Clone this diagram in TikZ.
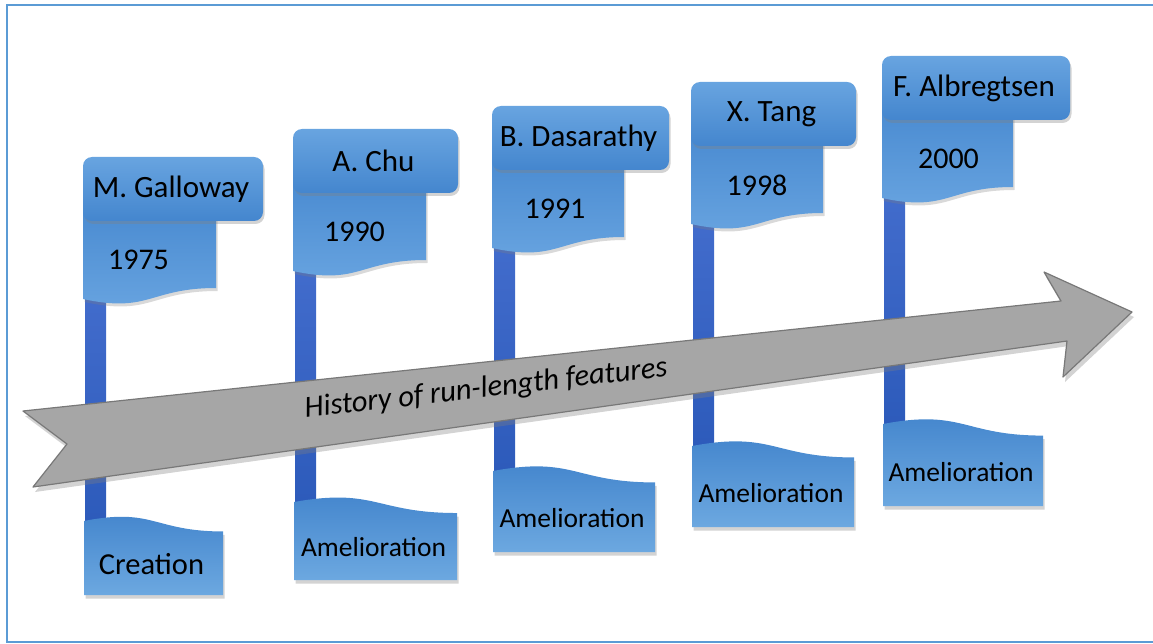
\documentclass[tikz,border=0pt]{standalone}
\usepackage{fontspec}
\setmainfont{Carlito}
\usetikzlibrary{shadows}
\definecolor{frameblue}{RGB}{91,155,213}
\definecolor{boxtop}{RGB}{104,164,224}
\definecolor{boxbot}{RGB}{68,134,206}
\definecolor{lowtop}{RGB}{66,132,204}
\definecolor{lowbot}{RGB}{108,168,224}
\definecolor{poletop}{RGB}{66,108,204}
\definecolor{polebot}{RGB}{44,90,186}
\definecolor{arrowfill}{RGB}{166,166,166}
\definecolor{arrowline}{RGB}{120,120,120}
\tikzset{
  labeltext/.style={font=\fontsize{30}{34}\selectfont, text=black, inner sep=0pt},
  namebox/.style={top color=boxtop, bottom color=boxbot, rounded corners=9pt,
    drop shadow={shadow xshift=1.5pt, shadow yshift=-3pt, opacity=0.35}},
  flagbox/.style={top color=boxbot, bottom color=boxtop,
    drop shadow={shadow xshift=1.5pt, shadow yshift=-3pt, opacity=0.3}},
  lowbox/.style={top color=lowtop, bottom color=lowbot,
    drop shadow={shadow xshift=1.5pt, shadow yshift=-3.5pt, opacity=0.35}},
  polebar/.style={top color=poletop, bottom color=polebot},
  bigarrow/.style={fill=arrowfill, draw=arrowline, line width=1.2pt, line join=round,
    drop shadow={shadow xshift=2pt, shadow yshift=-5pt, opacity=0.35}},
}
\begin{document}
\begin{tikzpicture}[x=1pt,y=-1pt]
\useasboundingbox (0,0) rectangle (1153,644);
% frame
\draw[frameblue, line width=2.6pt] (1160,5) -- (7,5) -- (7,642) -- (1160,642);

% poles (behind everything else)
\foreach \id/\x/\bt/\lt in {1/83/157/521, 2/293/129/502, 3/492/106/471, 4/691/82/446, 5/882/56/424}{
  \pgfmathsetmacro{\pa}{\bt+135}
  \pgfmathsetmacro{\pb}{\lt+12}
  \path[polebar] (\x+2,\pa) rectangle (\x+23,\pb);
}

% timeline arrow
\path[bigarrow] (23,411) -- (67,444) -- (33,487) -- (1067,341) -- (1063,377)
  -- (1132,312) -- (1044,272) -- (1061,301) -- cycle;
\node[labeltext, font=\fontsize{30.5}{34}\selectfont\itshape, rotate=6.6] (title)
  at (486,389) {History of run-length features};

% milestones: flag with name and year, lower card with the event
\foreach \id/\x/\bt/\bw/\fw/\lw/\lt/\lb/\nm/\yr/\yo/\ev/\es in {
  1/83/157/180/133/139/521/595/M. Galloway/1975/-11/Creation/30.5,
  2/293/129/165/133/163/502/580/A. Chu/1990/-5/Amelioration/27.5,
  3/492/106/177/132/162/471/552/B. Dasarathy/1991/-3/Amelioration/27.5,
  4/691/82/165/132/162/446/527/X. Tang/1998/0/Amelioration/27.5,
  5/882/56/188/131/160/424/506/F. Albregtsen/2000/1/Amelioration/27.5}{
  \pgfmathsetmacro{\ftop}{\bt+30}
  \pgfmathsetmacro{\fl}{\bt+142}
  \pgfmathsetmacro{\fr}{\bt+131}
  \pgfmathsetmacro{\fc}{\bt+156.5}
  \pgfmathsetmacro{\fm}{\x+\fw/2}
  \pgfmathsetmacro{\fx}{\x+\fw}
  \pgfmathsetmacro{\bb}{\bt+64}
  \pgfmathsetmacro{\bx}{\x+\bw}
  \pgfmathsetmacro{\lx}{\x+1}
  \pgfmathsetmacro{\lr}{\x+1+\lw}
  \pgfmathsetmacro{\lm}{\x+1+\lw/2}
  \pgfmathsetmacro{\ld}{\lb-\lt}
  \pgfmathsetmacro{\lrt}{\lb-0.8587*\ld}
  \pgfmathsetmacro{\lc}{\lb-1.1863*\ld}
  \pgfmathsetmacro{\ly}{(\lrt+\lb)/2+1}
  % year flag
  \path[flagbox] (\x,\ftop) -- (\fx,\ftop) -- (\fx,\fr)
    .. controls (\fm,\fr) and (\fm,\fc) .. (\x,\fl) -- cycle;
  % name box
  \path[namebox] (\x,\bt) rectangle (\bx,\bb);
  % event card
  \path[lowbox] (\lx,\lt) .. controls (\lm,\lc) and (\lm,\lrt) .. (\lr,\lrt)
    -- (\lr,\lb) -- (\lx,\lb) -- cycle;
  \node[labeltext, font=\fontsize{31}{35}\selectfont] (name-\id) at (\x+\bw/2-2,\bt+32) {\nm};
  \node[labeltext] (year-\id) at (\fm+\yo,\bb+39) {\yr};
  \node[labeltext, font=\fontsize{\es}{34}\selectfont] (event-\id) at (\lm-2,\ly) {\ev};
}
\end{tikzpicture}
\end{document}
